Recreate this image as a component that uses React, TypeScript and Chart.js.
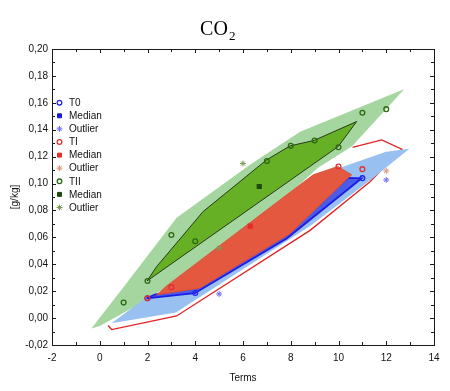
import React, { useEffect, useRef } from 'react';
import { Chart, registerables } from 'chart.js';
import { drawPoint } from 'chart.js/helpers';

Chart.register(...registerables);

// ---- axis ticks ----
const xTickValues = [-2, 0, 2, 4, 6, 8, 10, 12, 14];
const xMinorValues = [-1, 1, 3, 5, 7, 9, 11, 13];
const yTickValues = [-0.02, 0, 0.02, 0.04, 0.06, 0.08, 0.1, 0.12, 0.14, 0.16, 0.18, 0.2];
const yTickLabels = ['-0,02', '0,00', '0,02', '0,04', '0,06', '0,08', '0,10', '0,12', '0,14', '0,16', '0,18', '0,20'];
const yMinorValues = [-0.01, 0.01, 0.03, 0.05, 0.07, 0.09, 0.11, 0.13, 0.15, 0.17, 0.19];

// ---- observed points ----
const t0Points = [[2, 0.0148], [4, 0.0187], [11, 0.104]];
const t0Outliers = [[5, 0.0179], [12, 0.1027]];
const tIPoints = [[2, 0.0148], [3, 0.023], [10, 0.1127], [11, 0.1107]];
const tIMedian = [[6.3, 0.0683]];
const tIOutliers = [[12, 0.1094]];
const tIIPoints = [[1, 0.0115], [2, 0.0276], [3, 0.0618], [4, 0.0571], [7, 0.1167], [8, 0.128], [9, 0.132], [10, 0.127], [11, 0.1526], [12, 0.1553]];
const tIIMedian = [[6.68, 0.0978]];
const tIIOutliers = [[5, 0.052], [6, 0.1149]];

// ---- region outlines (vertices) ----
const tIRangeOutline = [[10.59, 0.1268], [11.81, 0.1325], [12.65, 0.1256], [11.32, 0.1013], [8.81, 0.0652], [3.22, 0.0016], [0.5, -0.0085], [0.35, -0.0055]];
const tIIRangeBand = [[-0.35, -0.0077], [1.12, 0.0259], [3.22, 0.0745], [6.29, 0.1139], [8.39, 0.1385], [12.76, 0.1702], [10.57, 0.1277], [9.14, 0.1117], [6.29, 0.0655], [1.97, 0.0135], [0, -0.0059], [-0.35, -0.0077]];
const t0RangeBand = [[12.97, 0.1258], [11.45, 0.1042], [8.81, 0.0685], [3.19, 0.0042], [0.49, -0.0039], [1.96, 0.0155], [2.43, 0.0164], [10.06, 0.1117], [11.03, 0.1176], [11.99, 0.1236], [12.97, 0.1258]];
const t0Hull = [[1.96, 0.0147], [3.98, 0.0185], [7.83, 0.0592], [10.97, 0.1039], [10.4, 0.1042], [7.76, 0.0634], [4.03, 0.0231], [2.31, 0.0175], [1.96, 0.0147]];
const tIHull = [[2.38, 0.0172], [2.8, 0.0239], [8.94, 0.1065], [9.97, 0.1127], [10.55, 0.1065], [7.97, 0.0626], [4.19, 0.0222], [2.38, 0.0172]];
const tIIHull = [[1.98, 0.0276], [2.38, 0.0382], [4.33, 0.0792], [6.99, 0.1176], [7.97, 0.128], [8.97, 0.132], [10.76, 0.1461], [9.99, 0.1275], [1.98, 0.0276]];

// ---- legend ----
const legendLabels = ['T0', 'Median', 'Outlier', 'TI', 'Median', 'Outlier', 'TII', 'Median', 'Outlier'];

const C = {
  t0: '#2424f0',
  t0Med: '#1818d8',
  t0Out: '#6f6ff0',
  tI: '#e03030',
  tIMed: '#e82a2a',
  tIOut: '#d89a78',
  tII: '#2c6a12',
  tIIMed: '#1d4a0c',
  tIIOut: '#7f9a55',
};

const legendStyles = [
  { style: 'circle', color: C.t0, fill: false },
  { style: 'rect', color: C.t0Med, fill: true },
  { style: 'star', color: C.t0Out, fill: false },
  { style: 'circle', color: C.tI, fill: false },
  { style: 'rect', color: C.tIMed, fill: true },
  { style: 'star', color: C.tIOut, fill: false },
  { style: 'circle', color: C.tII, fill: false },
  { style: 'rect', color: C.tIIMed, fill: true },
  { style: 'star', color: C.tIIOut, fill: false },
];

const toXY = (arr: number[][]) => arr.map(([x, y]) => ({ x, y }));

const SANS = '"Liberation Sans", Arial, sans-serif';

const decorPlugin = {
  id: 'decor',
  afterDraw(chart: any) {
    const { ctx, chartArea: a, scales } = chart;
    const xs = scales.x;
    const ys = scales.y;
    ctx.save();
    // frame
    ctx.strokeStyle = '#1a1a1a';
    ctx.lineWidth = 1;
    ctx.strokeRect(Math.round(a.left) + 0.5, Math.round(a.top) + 0.5, Math.round(a.right - a.left), Math.round(a.bottom - a.top));
    // inward ticks
    ctx.beginPath();
    const xt = (v: number, len: number) => {
      const px = Math.round(xs.getPixelForValue(v)) + 0.5;
      ctx.moveTo(px, a.bottom); ctx.lineTo(px, a.bottom - len);
      ctx.moveTo(px, a.top); ctx.lineTo(px, a.top + len);
    };
    const yt = (v: number, len: number) => {
      const py = Math.round(ys.getPixelForValue(v)) + 0.5;
      ctx.moveTo(a.left, py); ctx.lineTo(a.left + len, py);
      ctx.moveTo(a.right, py); ctx.lineTo(a.right - len, py);
    };
    xTickValues.forEach((v) => xt(v, 4));
    xMinorValues.forEach((v) => xt(v, 3));
    yTickValues.forEach((v) => yt(v, 4));
    yMinorValues.forEach((v) => yt(v, 3));
    ctx.stroke();

    // legend
    ctx.font = `10px ${SANS}`;
    ctx.textBaseline = 'middle';
    ctx.textAlign = 'left';
    legendLabels.forEach((label, i) => {
      const ly = 102.7 + i * 13.1;
      const st = legendStyles[i];
      ctx.strokeStyle = st.color;
      ctx.fillStyle = st.fill ? st.color : 'rgba(0,0,0,0)';
      ctx.lineWidth = st.style === 'circle' ? 1.3 : 1;
      drawPoint(ctx, { pointStyle: st.style, radius: st.style === 'rect' ? 2.8 : st.style === 'star' ? 3 : 2.3, rotation: 0, borderWidth: ctx.lineWidth } as any, 59.5, ly);
      ctx.fillStyle = '#111';
      ctx.fillText(label, 69, ly + 0.5);
    });

    // title CO2
    ctx.fillStyle = '#000';
    ctx.textBaseline = 'alphabetic';
    ctx.font = '20px "Liberation Serif", "Times New Roman", serif';
    const main = 'CO';
    const w = ctx.measureText(main).width;
    const x0 = 214 - w / 2;
    ctx.fillText(main, x0, 35);
    ctx.font = '13px "Liberation Serif", "Times New Roman", serif';
    ctx.fillText('2', x0 + w + 1, 39.5);
    ctx.restore();
  },
};

function polygon(data: number[][], bg: string, border: string, bw: number, order: number, fill: any = 'shape') {
  return {
    type: 'line',
    data: toXY(data),
    backgroundColor: bg,
    borderColor: border,
    borderWidth: bw,
    fill,
    pointRadius: 0,
    pointHoverRadius: 0,
    tension: 0,
    order,
    borderJoinStyle: 'miter',
  };
}

function markers(data: number[][], style: string, color: string, filled: boolean, radius: number, order: number, bw = 1.2) {
  return {
    type: 'scatter',
    data: toXY(data),
    pointStyle: style,
    pointRadius: radius,
    pointHoverRadius: radius,
    pointBorderColor: color,
    borderColor: color,
    pointBackgroundColor: filled ? color : 'rgba(0,0,0,0)',
    backgroundColor: filled ? color : 'rgba(0,0,0,0)',
    pointBorderWidth: bw,
    borderWidth: bw,
    showLine: false,
    order,
  };
}

export default function App() {
  const ref = useRef<HTMLCanvasElement>(null);
  useEffect(() => {
    if (!ref.current) return;
    const chart = new Chart(ref.current, {
      type: 'scatter',
      data: {
        datasets: [
          polygon(tIRangeOutline, 'rgba(0,0,0,0)', '#e02222', 1.3, 100, false),
          polygon(tIIRangeBand, 'rgb(166,214,160)', 'rgba(0,0,0,0)', 0, 90),
          polygon(t0RangeBand, 'rgb(152,192,240)', 'rgba(0,0,0,0)', 0, 80),
          polygon(t0Hull, 'rgb(72,92,232)', '#1c1ce6', 1.8, 70),
          polygon(tIHull, 'rgb(228,88,64)', 'rgb(220,70,50)', 0.8, 60),
          polygon(tIIHull, 'rgb(102,176,38)', '#1e2a14', 0.9, 50),
          markers(t0Points, 'circle', C.t0, false, 2.4, 20, 1.3),
          markers(tIPoints, 'circle', C.tI, false, 2.4, 19, 1.3),
          markers(tIIPoints, 'circle', C.tII, false, 2.4, 18, 1.3),
          markers(tIMedian, 'rect', C.tIMed, true, 2.8, 17),
          markers(tIIMedian, 'rect', C.tIIMed, true, 2.8, 16),
          markers(t0Outliers, 'star', C.t0Out, false, 3, 15, 1),
          markers(tIOutliers, 'star', C.tIOut, false, 3, 14, 1),
          markers(tIIOutliers, 'star', C.tIIOut, false, 3, 13, 1),
        ] as any,
      },
      options: {
        animation: false,
        responsive: false,
        events: [],
        layout: { padding: { top: 49, right: 16, left: 0, bottom: 0 } },
        plugins: {
          legend: { display: false },
          tooltip: { enabled: false },
          title: { display: false },
        },
        scales: {
          x: {
            type: 'linear',
            min: -2,
            max: 14,
            grid: { display: false, drawTicks: false },
            border: { display: false },
            afterBuildTicks: (s: any) => { s.ticks = xTickValues.map((v) => ({ value: v })); },
            afterFit: (s: any) => { s.height = 46; },
            ticks: {
              padding: 7,
              color: '#111',
              font: { family: SANS, size: 10 },
              callback: (v: any) => String(v),
            },
            title: {
              display: true,
              text: 'Terms',
              color: '#111',
              font: { family: SANS, size: 10 },
              padding: { top: 0, bottom: 7 },
            },
          },
          y: {
            type: 'linear',
            min: -0.02,
            max: 0.2,
            grid: { display: false, drawTicks: false },
            border: { display: false },
            afterBuildTicks: (s: any) => { s.ticks = yTickValues.map((v) => ({ value: v })); },
            afterFit: (s: any) => { s.width = 52; },
            ticks: {
              padding: 4,
              color: '#111',
              font: { family: SANS, size: 10 },
              callback: (_v: any, i: number) => yTickLabels[i],
            },
            title: {
              display: true,
              text: '[g/kg]',
              color: '#111',
              font: { family: SANS, size: 10 },
              padding: { top: 9, bottom: 0 },
            },
          },
        },
      } as any,
      plugins: [decorPlugin],
    });
    return () => chart.destroy();
  }, []);

  return (
    <div style={{ position: 'fixed', left: 0, top: 0, width: 450, height: 391, background: '#fff' }}>
      <canvas ref={ref} width={450} height={391} style={{ display: 'block' }} />
    </div>
  );
}
